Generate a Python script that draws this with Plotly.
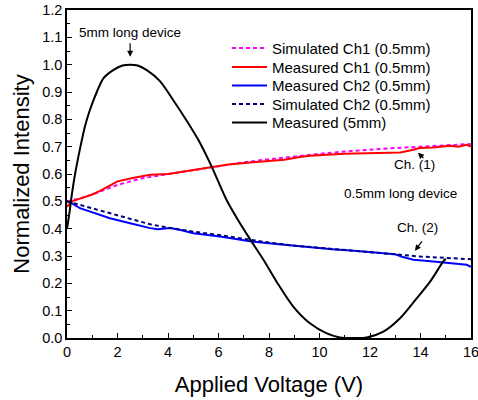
import plotly.graph_objects as go

# Measured (5mm)
x_5mm = [0, 0.1, 0.2, 0.32, 0.51, 0.71, 0.91, 1.18, 1.44, 1.83, 2.2, 2.5, 2.8, 3.16, 3.68,
         4.21, 4.74, 5.2, 5.73, 6.32, 6.85, 7.31, 7.78, 8.3, 8.96, 9.62, 10.29, 10.81, 11.3,
         11.87, 12.53, 13.19, 13.85, 14.38, 14.9, 15.0]
y_5mm = [0.40, 0.46, 0.53, 0.60, 0.69, 0.774, 0.835, 0.90, 0.95, 0.98, 0.997, 1.0, 0.997, 0.98, 0.94,
         0.87, 0.795, 0.725, 0.627, 0.505, 0.42, 0.353, 0.286, 0.206, 0.115, 0.054, 0.017, 0.002, 0.0,
         0.002, 0.023, 0.072, 0.145, 0.206, 0.28, 0.29]

# Measured Ch1 (0.5mm)
x_m1 = [0, 0.2, 0.51, 1.0, 1.31, 2.0, 2.6, 3.29, 4.0, 4.6, 5.2, 5.73, 6.4, 7.25, 8.0, 8.6,
        9.23, 9.62, 10.3, 11.0, 11.87, 12.6, 13.2, 13.58, 13.98, 14.5, 15.17, 15.5, 15.83, 16.0]
y_m1 = [0.48, 0.50, 0.51, 0.525, 0.538, 0.573, 0.585, 0.597, 0.60, 0.609, 0.618, 0.627, 0.635, 0.642,
        0.648, 0.652, 0.662, 0.667, 0.67, 0.674, 0.676, 0.678, 0.679, 0.686, 0.695, 0.697, 0.703,
        0.700, 0.707, 0.700]

# Simulated Ch1 (0.5mm)
x_s1 = [0, 0.5, 1, 2, 3, 4, 5, 6, 7, 8, 9, 10, 11, 12, 13, 14, 15, 16]
y_s1 = [0.50, 0.51, 0.525, 0.56, 0.585, 0.60, 0.615, 0.63, 0.643, 0.654, 0.665, 0.674, 0.682,
        0.689, 0.695, 0.70, 0.705, 0.71]

# Measured Ch2 (0.5mm)
x_m2 = [0, 0.15, 0.51, 1.0, 1.7, 2.5, 3.29, 3.6, 4.08, 4.5, 5.0, 6.06, 7.31, 8.5, 9.62, 10.5,
        11.5, 12.5, 13.0, 13.3, 13.72, 14.5, 15.0, 15.83, 16.0]
y_m2 = [0.50, 0.495, 0.475, 0.46, 0.438, 0.42, 0.402, 0.398, 0.402, 0.395, 0.383, 0.371, 0.353,
        0.342, 0.332, 0.325, 0.318, 0.31, 0.306, 0.296, 0.286, 0.28, 0.276, 0.268, 0.26]

# Simulated Ch2 (0.5mm)
x_s2 = [0, 0.51, 1, 1.7, 2.5, 3.29, 4, 5, 6, 7, 8, 9, 10, 11, 12, 13, 13.5, 14, 15, 16]
y_s2 = [0.50, 0.487, 0.475, 0.457, 0.437, 0.416, 0.404, 0.389, 0.377, 0.362, 0.349, 0.338,
        0.33, 0.322, 0.314, 0.306, 0.302, 0.298, 0.293, 0.288]

legend_labels = ["Simulated Ch1 (0.5mm)", "Measured Ch1 (0.5mm)", "Measured Ch2 (0.5mm)",
                 "Simulated Ch2 (0.5mm)", "Measured (5mm)"]

FONT = "Arial, Liberation Sans, sans-serif"
W, H = 478, 400
ML, MR, MT, MB = 67, 7, 10, 62
PW, PH = W - ML - MR, H - MT - MB


def px_x(px):
    return (px - ML) / PW


def px_y(py):
    return (H - MB - py) / PH


styles = [
    dict(color="#FF00FF", width=2, dash="4px,3px"),
    dict(color="#FF0000", width=2),
    dict(color="#0000FF", width=2),
    dict(color="#000080", width=2, dash="4px,3px"),
    dict(color="#000000", width=2),
]
series = [(x_s1, y_s1), (x_m1, y_m1), (x_m2, y_m2), (x_s2, y_s2), (x_5mm, y_5mm)]

fig = go.Figure()
for (xs, ys), lab, st in zip(series, legend_labels, styles):
    shape = "spline" if lab == "Measured (5mm)" else "linear"
    fig.add_trace(go.Scatter(x=xs, y=ys, mode="lines", name=lab, showlegend=False,
                             line=dict(shape=shape, smoothing=0.8, **st)))

ann_font = dict(family=FONT, size=13.5, color="black")
annotations = [
    dict(x=2.5, y=1.117, text="5mm long device", showarrow=False, font=ann_font),
    dict(x=2.5, y=1.029, text="", showarrow=True, arrowhead=2, arrowsize=1, arrowwidth=1.2,
         ax=0, ay=-15, arrowcolor="black"),
    dict(x=13.78, y=0.634, text="Ch. (1)", showarrow=False, font=ann_font),
    dict(x=13.9, y=0.678, text="", showarrow=True, arrowhead=2, arrowsize=1, arrowwidth=1.2,
         ax=7, ay=7, arrowcolor="black"),
    dict(x=13.19, y=0.527, text="0.5mm long device", showarrow=False, font=ann_font),
    dict(x=13.9, y=0.403, text="Ch. (2)", showarrow=False, font=ann_font),
    dict(x=13.78, y=0.319, text="", showarrow=True, arrowhead=2, arrowsize=1, arrowwidth=1.2,
         ax=8, ay=-11, arrowcolor="black"),
]

# manual legend (line samples + labels)
shapes = []
row_y = [48, 67, 85.5, 104, 122.5]
for lab, st, ry in zip(legend_labels, styles, row_y):
    shapes.append(dict(type="line", xref="paper", yref="paper",
                       x0=px_x(232), x1=px_x(267), y0=px_y(ry), y1=px_y(ry),
                       line=dict(color=st["color"], width=2, dash=st.get("dash", "solid"))))
    annotations.append(dict(xref="paper", yref="paper", x=px_x(270), y=px_y(ry),
                            xanchor="left", yanchor="middle", text=lab, showarrow=False,
                            font=dict(family=FONT, size=15, color="black")))

axis_common = dict(
    showline=True, linecolor="black", linewidth=1.5, mirror=True,
    ticks="inside", ticklen=5, tickwidth=1.2, tickcolor="black",
    showgrid=False, zeroline=False, automargin=False, ticklabeloverflow="allow",
    tickfont=dict(family=FONT, size=14.5, color="black"),
)

fig.update_layout(
    width=W, height=H,
    margin=dict(l=ML, r=MR, t=MT, b=MB),
    paper_bgcolor="white", plot_bgcolor="white",
    font=dict(family=FONT, color="black"),
    showlegend=False,
    annotations=annotations,
    shapes=shapes,
    xaxis=dict(range=[0, 16], tickmode="linear", tick0=0, dtick=2,
               minor=dict(ticks="inside", ticklen=3, tickwidth=1.2, tickcolor="black", dtick=1),
               title=dict(text="Applied Voltage (V)", font=dict(family=FONT, size=22), standoff=17),
               **axis_common),
    yaxis=dict(range=[0, 1.2], tickmode="linear", tick0=0, dtick=0.1, tickformat=".1f",
               minor=dict(ticks="inside", ticklen=3, tickwidth=1.2, tickcolor="black", dtick=0.05),
               title=dict(text="Normalized Intensity", font=dict(family=FONT, size=22), standoff=6),
               **axis_common),
)

fig.write_html("out.html", config={"displayModeBar": False},
               post_script="document.body.style.margin='0';")
